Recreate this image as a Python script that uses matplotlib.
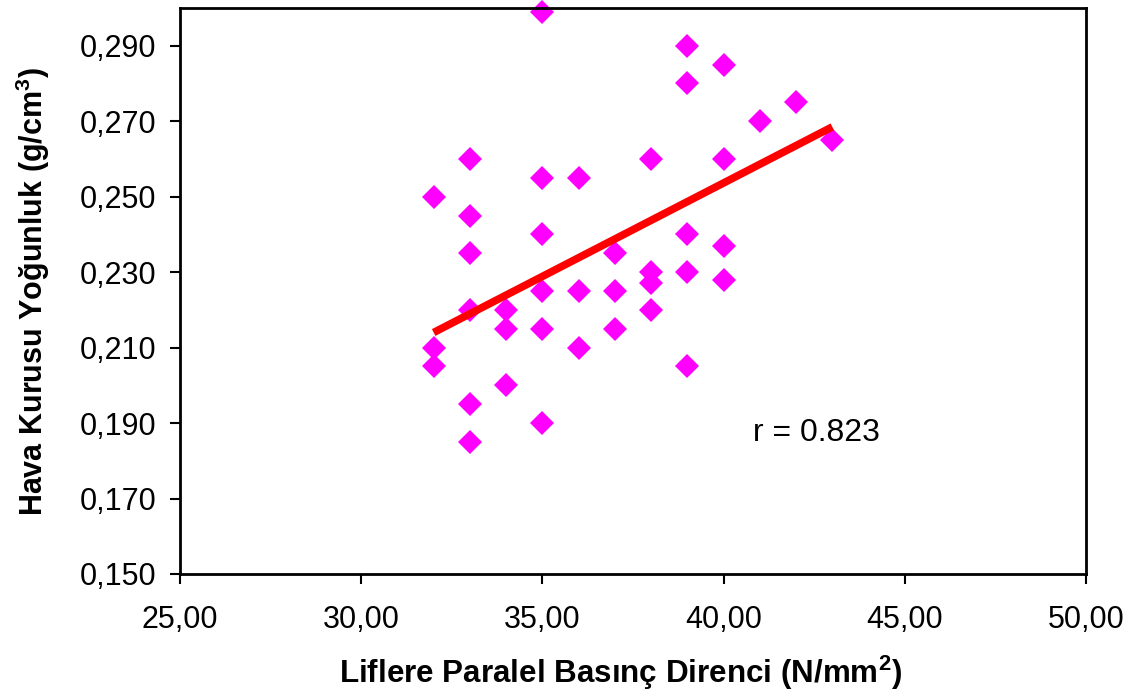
import numpy as np
import matplotlib
matplotlib.use('Agg')
import matplotlib.pyplot as plt
from matplotlib.ticker import FuncFormatter

plt.rcParams['font.family'] = ['Liberation Sans', 'DejaVu Sans']
plt.rcParams['mathtext.fontset'] = 'custom'
plt.rcParams['mathtext.rm'] = 'Liberation Sans'
plt.rcParams['mathtext.bf'] = 'Liberation Sans:bold'

# Compression strength (x) and air-dry density (y)
strength = [32, 32, 32,
            33, 33, 33, 33, 33, 33,
            34, 34, 34,
            35, 35, 35, 35, 35, 35,
            36, 36, 36,
            37, 37, 37,
            38, 38, 38, 38,
            39, 39, 39, 39, 39,
            40, 40, 40, 40,
            41, 42, 43]
density = [0.250, 0.210, 0.205,
           0.260, 0.245, 0.235, 0.220, 0.195, 0.185,
           0.220, 0.215, 0.200,
           0.299, 0.255, 0.240, 0.225, 0.215, 0.190,
           0.255, 0.225, 0.210,
           0.235, 0.225, 0.215,
           0.260, 0.230, 0.227, 0.220,
           0.290, 0.280, 0.240, 0.230, 0.205,
           0.285, 0.260, 0.237, 0.228,
           0.270, 0.275, 0.265]

# trend line end points
trend_x = [32, 43]
trend_y = [0.214, 0.2685]

fig = plt.figure(figsize=(11.34, 6.97), dpi=100)
ax = fig.add_axes([0.1587, 0.1765, 0.799, 0.812])

ax.plot(trend_x, trend_y, color='#FF0000', linewidth=5.5, solid_capstyle='butt', zorder=3)
ax.plot(strength, density, linestyle='none', marker='D', markersize=12.5,
        color='#FF00FF', markeredgewidth=0, zorder=2, clip_on=False)

ax.set_xlim(25, 50)
ax.set_ylim(0.150, 0.300)
ax.set_xticks(np.arange(25, 51, 5))
ax.set_yticks(np.arange(0.150, 0.291, 0.020))
ax.xaxis.set_major_formatter(FuncFormatter(lambda v, p: f'{v:.2f}'.replace('.', ',')))
ax.yaxis.set_major_formatter(FuncFormatter(lambda v, p: f'{v:.3f}'.replace('.', ',')))
ax.tick_params(axis='both', direction='out', length=7, width=1.5, labelsize=22)
ax.tick_params(axis='x', pad=15)
ax.tick_params(axis='y', pad=10)
for s in ax.spines.values():
    s.set_linewidth(2)

ax.set_xlabel(r'Liflere Paralel Basınç Direnci (N/mm$^{\mathbf{2}}$)',
              fontsize=22.6, fontweight='bold', labelpad=14)
ax.xaxis.label.set_x(0.486)
ax.set_ylabel(r'Hava Kurusu Yoğunluk (g/cm$^{\mathbf{3}}$)',
              fontsize=22, fontweight='bold', labelpad=20)

ax.text(40.8, 0.1874, 'r = 0.823', fontsize=23, va='center')

fig.savefig('out.png', dpi=100)
